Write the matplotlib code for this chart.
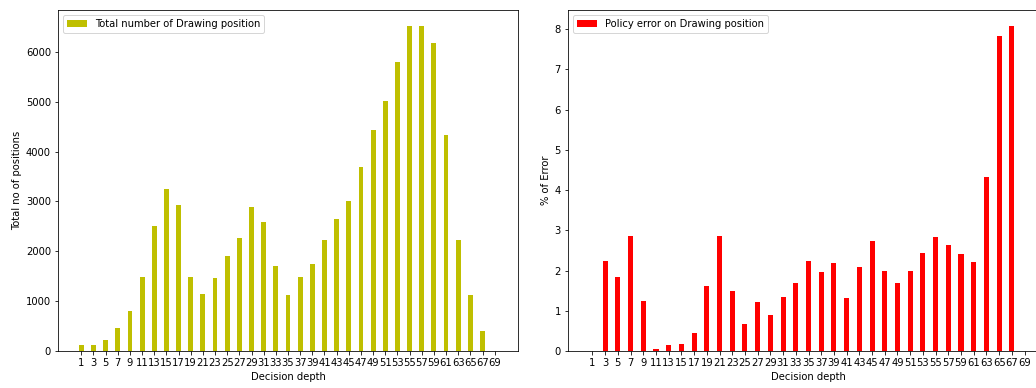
import numpy as np
import matplotlib
matplotlib.use('Agg')
import matplotlib.pyplot as plt

# decision depth labels (odd plies)
depths = [str(d) for d in range(1, 70, 2)]

# total drawing positions per depth
total_drawing = [120, 120, 213, 453, 800, 1480, 2507, 3253, 2920, 1493,
                 1153, 1467, 1913, 2273, 2887, 2593, 1713, 1120, 1480, 1747,
                 2227, 2640, 3007, 3700, 4427, 5007, 5800, 6513, 6513, 6180,
                 4327, 2227, 1120, 393, 0]

# policy error (%) per depth
policy_error = [0, 2.23, 1.83, 2.87, 1.24, 0.05, 0.16, 0.18, 0.45, 1.61,
                2.87, 1.49, 0.67, 1.22, 0.89, 1.35, 1.69, 2.23, 1.96, 2.18,
                1.31, 2.08, 2.73, 1.98, 1.68, 1.98, 2.43, 2.83, 2.64, 2.40,
                2.21, 4.32, 7.83, 8.07, 0]

W, H, DPI = 1036, 388, 72
fig = plt.figure(figsize=(W / DPI, H / DPI), dpi=DPI)
ax1 = fig.add_axes([58 / W, 37 / H, 460 / W, 341 / H])
ax2 = fig.add_axes([568 / W, 37 / H, 481 / W, 341 / H])

x = np.arange(len(depths))

ax1.bar(x, total_drawing, 0.4, color='y', label='Total number of Drawing position')
ax1.set_xticks(x)
ax1.set_xticklabels(depths)
ax1.set_xlabel('Decision depth')
ax1.set_ylabel('Total no of positions')
ax1.legend(loc='upper left')

ax2.bar(x, policy_error, 0.4, color='r', label='Policy error on Drawing position')
ax2.set_xticks(x)
ax2.set_xticklabels(depths)
ax2.set_xlabel('Decision depth')
ax2.set_ylabel('% of Error')
ax2.legend(loc='upper left')

fig.savefig('out.png', dpi=DPI)
